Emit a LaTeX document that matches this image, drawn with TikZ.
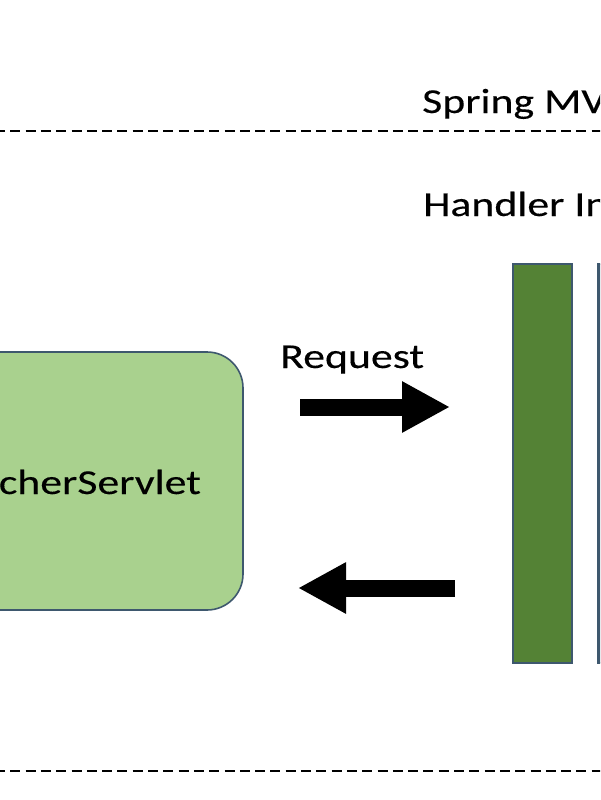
\documentclass[tikz,border=0pt]{standalone}
\usepackage{fontspec}
\setmainfont{Carlito}[FakeStretch=1.25, FakeBold=0.3]
\usetikzlibrary{arrows.meta, positioning}
\definecolor{servletgreen}{RGB}{169,209,142}
\definecolor{chaingreen}{RGB}{84,130,53}
\definecolor{outline}{RGB}{62,88,110}

\begin{document}
\begin{tikzpicture}[
    x=1pt, y=-1pt,
    font=\fontsize{35}{42}\selectfont,
    lbl/.style={anchor=base west, inner sep=0pt},
    sepline/.style={draw=black, line width=2pt, dash pattern=on 10pt off 5.3pt},
    servlet/.style={draw=outline, line width=1.6pt, fill=servletgreen,
                    rounded corners=36pt, minimum width=393pt, minimum height=258pt},
    bar/.style={draw=outline, line width=1.6pt, inner sep=0pt,
                minimum width=59pt, minimum height=399pt},
    blk/.style={line width=17pt, -{Triangle[length=48pt, width=48pt]}}
  ]
    \useasboundingbox (0,0) rectangle (600,800);
    \clip (0,0) rectangle (600,800);

    % layer separators
    \draw[sepline] (-5,131) -- (605,131);
    \draw[sepline] (-5,771) -- (605,771);

    \node[lbl] (mvc) at (422,113) {Spring MVC};
    \node[lbl] (chain) at (423,216) {Handler Interceptor};

    \node[servlet] (dispatcher) at (46.5,481) {};
    \node[anchor=base, inner sep=0pt] (dispname) at (44,494) {DispatcherServlet};

    \node[bar, fill=chaingreen] (first) at (542.5,463.5) {};
    \node[bar, fill=outline] (second) [right=24pt of first] {};

    \coordinate (reqtail) at (300,407);
    \coordinate (reqhead) at (450,407);
    \coordinate (restail) at (455,588);
    \coordinate (reshead) at (298,588);

    \node[lbl] (reqlbl) at (280,368) {Request};
    \draw[blk] (reqtail) -- (reqhead);
    \draw[blk] (restail) -- (reshead);
  \end{tikzpicture}
\end{document}
